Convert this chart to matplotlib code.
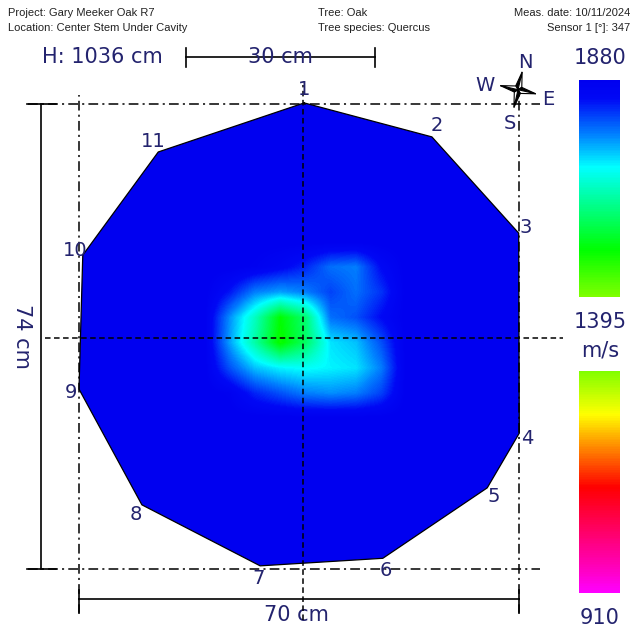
import numpy as np
import matplotlib.pyplot as plt
from matplotlib.colors import LinearSegmentedColormap, ListedColormap, Normalize
from matplotlib.colorbar import ColorbarBase
from matplotlib.patches import Polygon

plt.rcParams['lines.scale_dashes'] = False

# header info
project = 'Gary Meeker Oak R7'
location = 'Center Stem Under Cavity'
tree = 'Oak'
species = 'Quercus'
meas_date = '10/11/2024'
sensor1_deg = 347
height_cm = 1036
width_cm = 70
depth_cm = 74
scale_cm = 30

# sensor positions (cm, origin lower-left of bounding box)
sensor_ids = [1, 2, 3, 4, 5, 6, 7, 8, 9, 10, 11]
sensor_x = [35.8, 56.1, 69.9, 70.0, 64.9, 48.3, 28.8, 10.0, 0.0, 0.6, 12.6]
sensor_y = [74.1, 68.7, 53.4, 21.6, 12.9, 1.7, 0.5, 10.2, 28.6, 49.9, 66.3]

# velocity scale (m/s)
v_min, v_mid, v_max = 910, 1395, 1880

# velocity around the anomaly (m/s), rest of the stem is at v_max
grid_x = [20, 24, 28, 32, 36, 40, 44, 48, 52]
grid_y = [52, 48, 44, 40, 36, 32, 28, 24]
velocity = [
    [1880, 1880, 1880, 1880, 1880, 1880, 1880, 1880, 1880],
    [1880, 1880, 1870, 1850, 1820, 1770, 1760, 1840, 1880],
    [1880, 1830, 1760, 1740, 1760, 1800, 1770, 1810, 1880],
    [1880, 1750, 1640, 1500, 1580, 1770, 1790, 1840, 1880],
    [1880, 1740, 1620, 1490, 1570, 1700, 1720, 1790, 1880],
    [1880, 1790, 1720, 1690, 1680, 1690, 1700, 1760, 1880],
    [1880, 1870, 1820, 1790, 1760, 1750, 1760, 1800, 1880],
    [1880, 1880, 1880, 1880, 1880, 1880, 1880, 1880, 1880],
]

# colour scale of the tomograph
stop_values = [910, 960, 1140, 1230, 1300, 1395, 1500, 1686, 1760, 1840, 1880]
stop_colors = ['#ff00ff', '#ff00c0', '#ff0000', '#ff8c00', '#ffff00', '#80ff00',
               '#00ff00', '#00ffff', '#0080ff', '#0008f5', '#0000f0']
cmap = LinearSegmentedColormap.from_list(
    'tomo', [((v - v_min) / (v_max - v_min), c) for v, c in zip(stop_values, stop_colors)])
norm = Normalize(v_min, v_max)

navy = '#23236e'
W, H = 637, 635
PX = 6.29  # pixels per cm

fig = plt.figure(figsize=(W / 100, H / 100), dpi=100)
ax = fig.add_axes([0, 0, 1, 1])
ax.axis('off')

# stem outline and velocity field
pts = np.column_stack([sensor_x, sensor_y])
stem = Polygon(pts, closed=True, fc=cmap(norm(v_max)), ec='none', zorder=2)
ax.add_patch(stem)
im = ax.imshow(velocity, cmap=cmap, norm=norm, interpolation='bilinear',
               origin='upper', aspect='auto', zorder=3,
               extent=[grid_x[0] - 2, grid_x[-1] + 2, grid_y[-1] - 2, grid_y[0] + 2])
im.set_clip_path(stem)
ax.plot(np.append(sensor_x, sensor_x[0]), np.append(sensor_y, sensor_y[0]),
        color='black', lw=0.9, zorder=4)

# bounding box (dash-dot) and centre cross (dashed)
dashdot = (0, (7, 3, 1.5, 3))
dash = (0, (4, 2.5))
for y in [0, depth_cm]:
    ax.plot([-8.1, width_cm + 3.3], [y, y], color='black', lw=1.1, ls=dashdot, zorder=5)
for x in [0, width_cm]:
    ax.plot([x, x], [-7.2, depth_cm + 1.3], color='black', lw=1.1, ls=dashdot, zorder=5)
cx, cy = 35.6, 36.7
ax.plot([cx, cx], [-8.1, depth_cm + 3], color='black', lw=1.1, ls=dash, zorder=5)
ax.plot([-5.4, width_cm + 7], [cy, cy], color='black', lw=1.1, ls=dash, zorder=5)

# sensor numbers
for sid, x, y in zip(sensor_ids, sensor_x, sensor_y):
    dx, dy = x - cx, y - cy
    r = np.hypot(dx, dy)
    ax.annotate(str(sid), (x, y), xytext=(6 * dx / r, 9.5 * dy / r),
                textcoords='offset points', ha='center', va='center',
                fontsize=14, color=navy, zorder=6)

# dimension bars
bx = -6.0
ax.plot([bx, bx], [0, depth_cm], color='black', lw=1.2)
for y in [0, depth_cm]:
    ax.plot([bx - 2.3, bx + 2.3], [y, y], color='black', lw=1.2)
ax.text(bx - 3.0, depth_cm / 2, f'{depth_cm} cm', rotation=-90, ha='center',
        va='center', fontsize=15, color=navy)

by = -4.8
ax.plot([0, width_cm], [by, by], color='black', lw=1.2)
for x in [0, width_cm]:
    ax.plot([x, x], [by - 2.1, by + 1.5], color='black', lw=1.2)
ax.text(width_cm / 2 - 0.5, by - 2.5, f'{width_cm} cm', ha='center', va='center',
        fontsize=15, color=navy)

sy, sx0 = 81.4, 17.0
ax.plot([sx0, sx0 + scale_cm], [sy, sy], color='black', lw=1.2)
for x in [sx0, sx0 + scale_cm]:
    ax.plot([x, x], [sy - 1.6, sy + 1.4], color='black', lw=1.2)
ax.text(sx0 + scale_cm / 2, sy, f'{scale_cm} cm', ha='center', va='center',
        fontsize=15, color=navy, zorder=6)
ax.text(-5.9, sy, f'H: {height_cm} cm', ha='left', va='center', fontsize=15, color=navy)

# compass rose, rotated by the sensor 1 bearing
ccx, ccy = 69.8, 76.2
rot = np.deg2rad(360 - sensor1_deg)
R, r_in = 2.9, 0.7
for k in range(4):
    th = np.pi / 2 - rot - k * np.pi / 2
    tip = (ccx + R * np.cos(th), ccy + R * np.sin(th))
    a = (ccx + r_in * np.cos(th + np.pi / 4), ccy + r_in * np.sin(th + np.pi / 4))
    b = (ccx + r_in * np.cos(th - np.pi / 4), ccy + r_in * np.sin(th - np.pi / 4))
    ax.add_patch(Polygon([(ccx, ccy), tip, a], fc='black', ec='black', lw=0.8, zorder=7))
    ax.add_patch(Polygon([(ccx, ccy), tip, b], fc='white', ec='black', lw=0.8, zorder=7))
for lab, (lx, ly) in zip('NWES', [(70.9, 80.6), (64.5, 76.9), (74.6, 74.6), (68.5, 70.9)]):
    ax.text(lx, ly, lab, ha='center', va='center', fontsize=14, color=navy, zorder=7)

ax.set_xlim(-79 / PX, (W - 79) / PX)
ax.set_ylim((569 - H) / PX, 569 / PX)

# colour bars: each shows its own half of the velocity scale
for top, bot, lo, hi in [(80, 297, v_mid, v_max), (371, 593, v_min, v_mid)]:
    cax = fig.add_axes([579 / W, 1 - bot / H, 41 / W, (bot - top) / H])
    part = ListedColormap(cmap(np.linspace(norm(lo), norm(hi), 256)))
    cb = ColorbarBase(cax, cmap=part, norm=Normalize(lo, hi), orientation='vertical')
    cb.set_ticks([])
    cb.outline.set_visible(False)
for txt, y in [(str(v_max), 58), (str(v_mid), 322), ('m/s', 350), (str(v_min), 618)]:
    fig.text(600 / W, 1 - y / H, txt, ha='center', va='center', fontsize=15, color=navy)

# header
hdr = dict(fontsize=8, family='Liberation Sans', color='#222222', va='center')
fig.text(8 / W, 1 - 13 / H, f'Project: {project}', ha='left', **hdr)
fig.text(8 / W, 1 - 28 / H, f'Location: {location}', ha='left', **hdr)
fig.text(318 / W, 1 - 13 / H, f'Tree: {tree}', ha='left', **hdr)
fig.text(318 / W, 1 - 28 / H, f'Tree species: {species}', ha='left', **hdr)
fig.text(630 / W, 1 - 13 / H, f'Meas. date: {meas_date}', ha='right', **hdr)
fig.text(630 / W, 1 - 28 / H, f'Sensor 1 [°]: {sensor1_deg}', ha='right', **hdr)

fig.savefig('out.png', dpi=100, facecolor='white')
